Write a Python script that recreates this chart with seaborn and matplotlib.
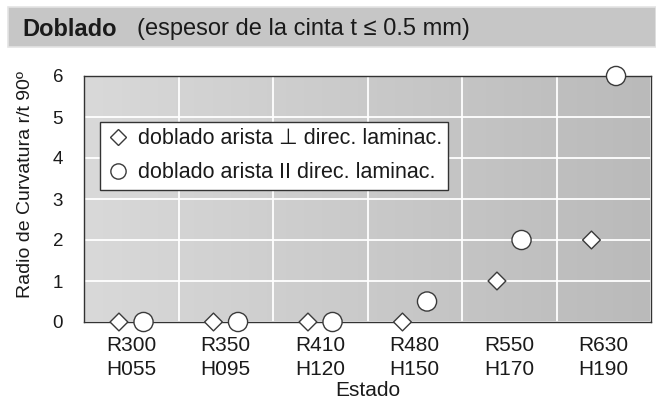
import numpy as np
import pandas as pd
import matplotlib
matplotlib.use('Agg')
import matplotlib.pyplot as plt
import seaborn as sns
from matplotlib.patches import Rectangle
from matplotlib.colors import LinearSegmentedColormap
from matplotlib.ticker import MultipleLocator, FixedLocator

# Data
estados = ['R300\nH055', 'R350\nH095', 'R410\nH120', 'R480\nH150', 'R550\nH170', 'R630\nH190']
perpendicular = [0, 0, 0, 0, 1, 2]
paralelo = [0, 0, 0, 0.5, 2, 6]
serie_perp = 'doblado arista \u22a5 direc. laminac.'
serie_par = 'doblado arista II direc. laminac.'

sns.set_style('white')
plt.rcParams['font.family'] = ['Liberation Sans', 'DejaVu Sans']

idx = np.arange(len(estados))
df = pd.concat([
    pd.DataFrame({'pos': idx - 0.13, 'valor': perpendicular, 'serie': serie_perp}),
    pd.DataFrame({'pos': idx + 0.13, 'valor': paralelo, 'serie': serie_par}),
])

fig = plt.figure(figsize=(6.56, 4), dpi=100)
ax = fig.add_axes([84 / 656, 78 / 400, 567 / 656, 246 / 400])

# title bar
fig.patches.append(Rectangle((8 / 656, 1 - 47 / 400), 648 / 656, 40 / 400,
                             transform=fig.transFigure, facecolor='#c6c6c6',
                             edgecolor='#e4e4e4', lw=1.2, zorder=0))
fig.text(22 / 656, 1 - 29 / 400, 'Doblado', fontsize=17, fontweight='bold',
         color='#1a1a1a', va='center')
fig.text(137 / 656, 1 - 29 / 400, '(espesor de la cinta t \u2264 0.5 mm)', fontsize=17,
         color='#1a1a1a', va='center')

# gradient background
cmap = LinearSegmentedColormap.from_list('fondo', ['#d9d9d9', '#bababa'])
grad = np.linspace(0, 1, 256).reshape(1, -1)
ax.imshow(grad, extent=(-0.5, 5.5, 0, 6), aspect='auto', cmap=cmap,
          zorder=0, interpolation='bicubic')

sns.scatterplot(data=df, x='pos', y='valor', style='serie', hue='serie',
                markers={serie_perp: 'D', serie_par: 'o'},
                palette={serie_perp: 'white', serie_par: 'white'},
                size='serie', sizes={serie_perp: 82, serie_par: 190},
                edgecolor='#3a3a3a', linewidth=1.0, clip_on=False, zorder=5, ax=ax)

ax.set_xlim(-0.5, 5.5)
ax.set_ylim(0, 6)

ax.xaxis.set_major_locator(FixedLocator(np.arange(-0.5, 6, 1)))
ax.xaxis.set_minor_locator(FixedLocator(idx))
ax.set_xticklabels([''] * 7)
ax.set_xticklabels(estados, minor=True, fontsize=15, color='#1a1a1a', linespacing=1.32)
ax.tick_params(axis='x', which='major', length=8, width=1, color='#333333', direction='out')
ax.tick_params(axis='x', which='minor', length=0, pad=10)

ax.yaxis.set_major_locator(MultipleLocator(1))
ax.yaxis.set_minor_locator(MultipleLocator(0.5))
ax.tick_params(axis='y', which='major', length=8, width=1, color='#333333', labelsize=13.5,
               labelcolor='#1a1a1a', direction='out', pad=7)
ax.tick_params(axis='y', which='minor', length=8, width=1, color='#333333', direction='out')

ax.grid(True, which='major', color='white', lw=1.3, zorder=1)
ax.set_axisbelow(True)
for s in ax.spines.values():
    s.set_color('#333333')
    s.set_linewidth(1)

ax.set_xlabel('Estado', fontsize=15, color='#1a1a1a')
ax.xaxis.set_label_coords(0.5, -0.238)
ax.set_ylabel('Radio de Curvatura r/t 90\u00ba', fontsize=14, color='#1a1a1a')
ax.yaxis.set_label_coords(-0.088, 0.56)

leg = ax.legend(loc='upper left', bbox_to_anchor=(16 / 567, 200 / 246), fontsize=15.5,
                frameon=True, fancybox=False, borderpad=0.3, handletextpad=0.35,
                handlelength=1.1, labelspacing=0.6, borderaxespad=0)
leg.get_frame().set_edgecolor('#333333')
leg.get_frame().set_linewidth(1)
leg.get_frame().set_facecolor('white')
leg.get_frame().set_alpha(1)
for h, ms in zip(leg.legend_handles, [7.8, 11]):
    h.set_markerfacecolor('white')
    h.set_markeredgecolor('#3a3a3a')
    h.set_markeredgewidth(1.0)
    h.set_markersize(ms)
for txt in leg.get_texts():
    txt.set_color('#1a1a1a')

fig.savefig('out.png', dpi=100)
